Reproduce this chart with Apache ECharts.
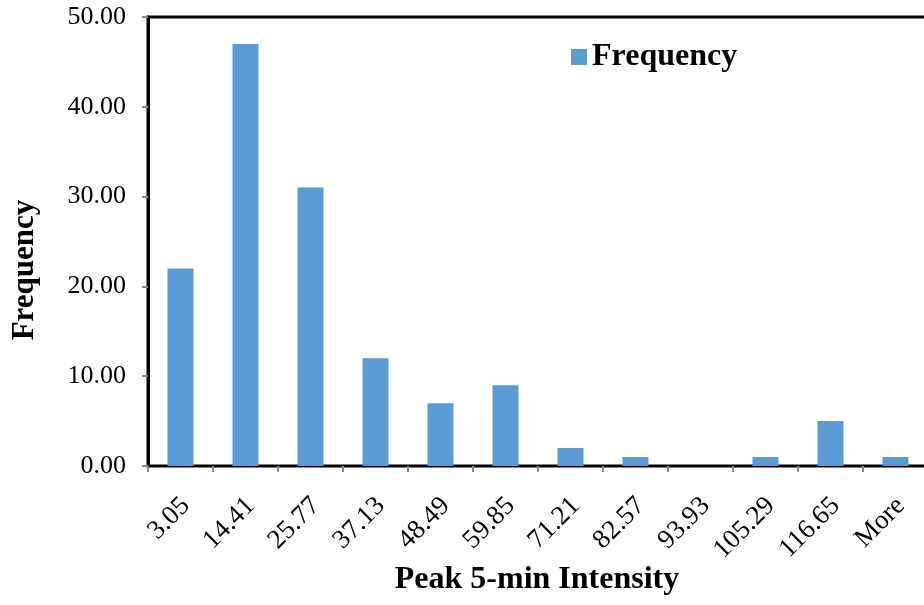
<!DOCTYPE html>
<html>
<head>
<meta charset="utf-8">
<script src="https://cdn.jsdelivr.net/npm/echarts@6/dist/echarts.min.js"></script>
<style>html,body{margin:0;padding:0;background:#fff;}#c{width:924px;height:605px;}</style>
</head>
<body>
<div id="c"></div>
<script>
const categories = ['3.05','14.41','25.77','37.13','48.49','59.85','71.21','82.57','93.93','105.29','116.65','More'];
const frequency = [22, 47, 31, 12, 7, 9, 2, 1, 0, 1, 5, 1];
const yTicks = { min: 0, max: 50, interval: 10 };
const seriesName = 'Frequency';
const xTitle = 'Peak 5-min Intensity';
const yTitle = 'Frequency';

const FONT = '"Liberation Serif","Times New Roman",serif';
const chart = echarts.init(document.getElementById('c'), null, {renderer: 'canvas'});
chart.setOption({
  animation: false,
  backgroundColor: '#fff',
  grid: { left: 148, top: 17, width: 780, height: 449, containLabel: false, outerBoundsMode: 'none', show: true, borderColor: '#000', borderWidth: 3, backgroundColor: 'transparent' },
  legend: {
    data: [seriesName], left: 566, top: 36, itemWidth: 16, itemHeight: 16, itemGap: 8,
    icon: 'rect',
    textStyle: { fontFamily: FONT, fontSize: 32, fontWeight: 'bold', color: '#000' }
  },
  graphic: [{
    type: 'text', rotation: Math.PI / 2,
    style: { text: yTitle, font: 'bold 31px ' + FONT, fill: '#000', textAlign: 'center', textVerticalAlign: 'middle' },
    x: 25, y: 270
  }, {
    type: 'text',
    style: { text: xTitle, font: 'bold 32px ' + FONT, fill: '#000', textAlign: 'center', textVerticalAlign: 'middle' },
    x: 537, y: 580
  }],
  xAxis: {
    type: 'category', data: categories,
    axisLine: { lineStyle: { color: '#000', width: 2 } },
    axisTick: { show: true, length: 6, lineStyle: { color: '#888', width: 2 } },
    axisLabel: { rotate: 45, margin: 22, interval: 0, verticalAlign: 'top', padding: [0, 6, 0, 0], fontFamily: FONT, fontSize: 27, color: '#000' }
  },
  yAxis: {
    type: 'value', min: yTicks.min, max: yTicks.max, interval: yTicks.interval,
    axisLine: { show: true, lineStyle: { color: '#000', width: 3 } },
    axisTick: { show: true, length: 6, lineStyle: { color: '#888', width: 2 } },
    splitLine: { show: false },
    axisLabel: { margin: 22, fontFamily: FONT, fontSize: 26, color: '#000', formatter: v => v.toFixed(2) }
  },
  series: [{
    name: seriesName, type: 'bar', data: frequency, barWidth: '40%',
    itemStyle: { color: '#5B9BD5' }
  }]
});
</script>
</body>
</html>
